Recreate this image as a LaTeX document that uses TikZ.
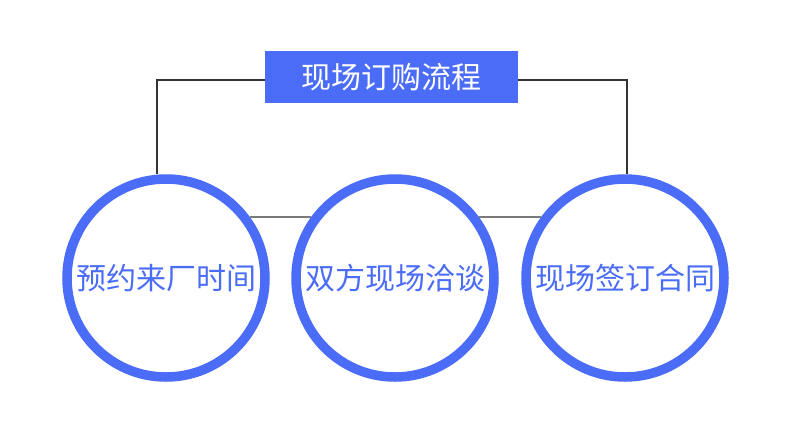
\documentclass[tikz,border=0pt]{standalone}
\usepackage{fontspec}
\setmainfont{Noto Sans CJK SC}
\definecolor{mainblue}{HTML}{4A6CF7}
\definecolor{darkline}{HTML}{333333}
\definecolor{greyline}{HTML}{7A7A7A}
\begin{document}
\begin{tikzpicture}[x=1pt,y=1pt,
  titlebox/.style={fill=mainblue, draw=none, minimum width=253pt, minimum height=52pt, inner sep=0pt, text=white, font=\fontsize{30pt}{33pt}\selectfont},
  stepcircle/.style={circle, draw=mainblue, line width=9.5pt, minimum size=198pt, inner sep=0pt, text=mainblue, font=\fontsize{30pt}{33pt}\selectfont},
  topline/.style={draw=darkline, line width=1.4pt},
  midline/.style={draw=greyline, line width=1.6pt}]
\useasboundingbox (0,0) rectangle (790,-440);
\node[titlebox] (title) at (391.5,-77) {现场订购流程};
\node[stepcircle] (c1) at (166,-278) {预约来厂时间};
\node[stepcircle] (c2) at (395,-278) {双方现场洽谈};
\node[stepcircle] (c3) at (625,-278) {现场签订合同};
\draw[topline] ([yshift=-3pt]title.west) -| ([xshift=-9pt]c1.north);
\draw[topline] ([yshift=-3pt]title.east) -| ([xshift=2pt]c3.north);
\draw[midline] (c1.36) -- (c2.144);
\draw[midline] (c2.36) -- (c3.144);
\end{tikzpicture}
\end{document}
